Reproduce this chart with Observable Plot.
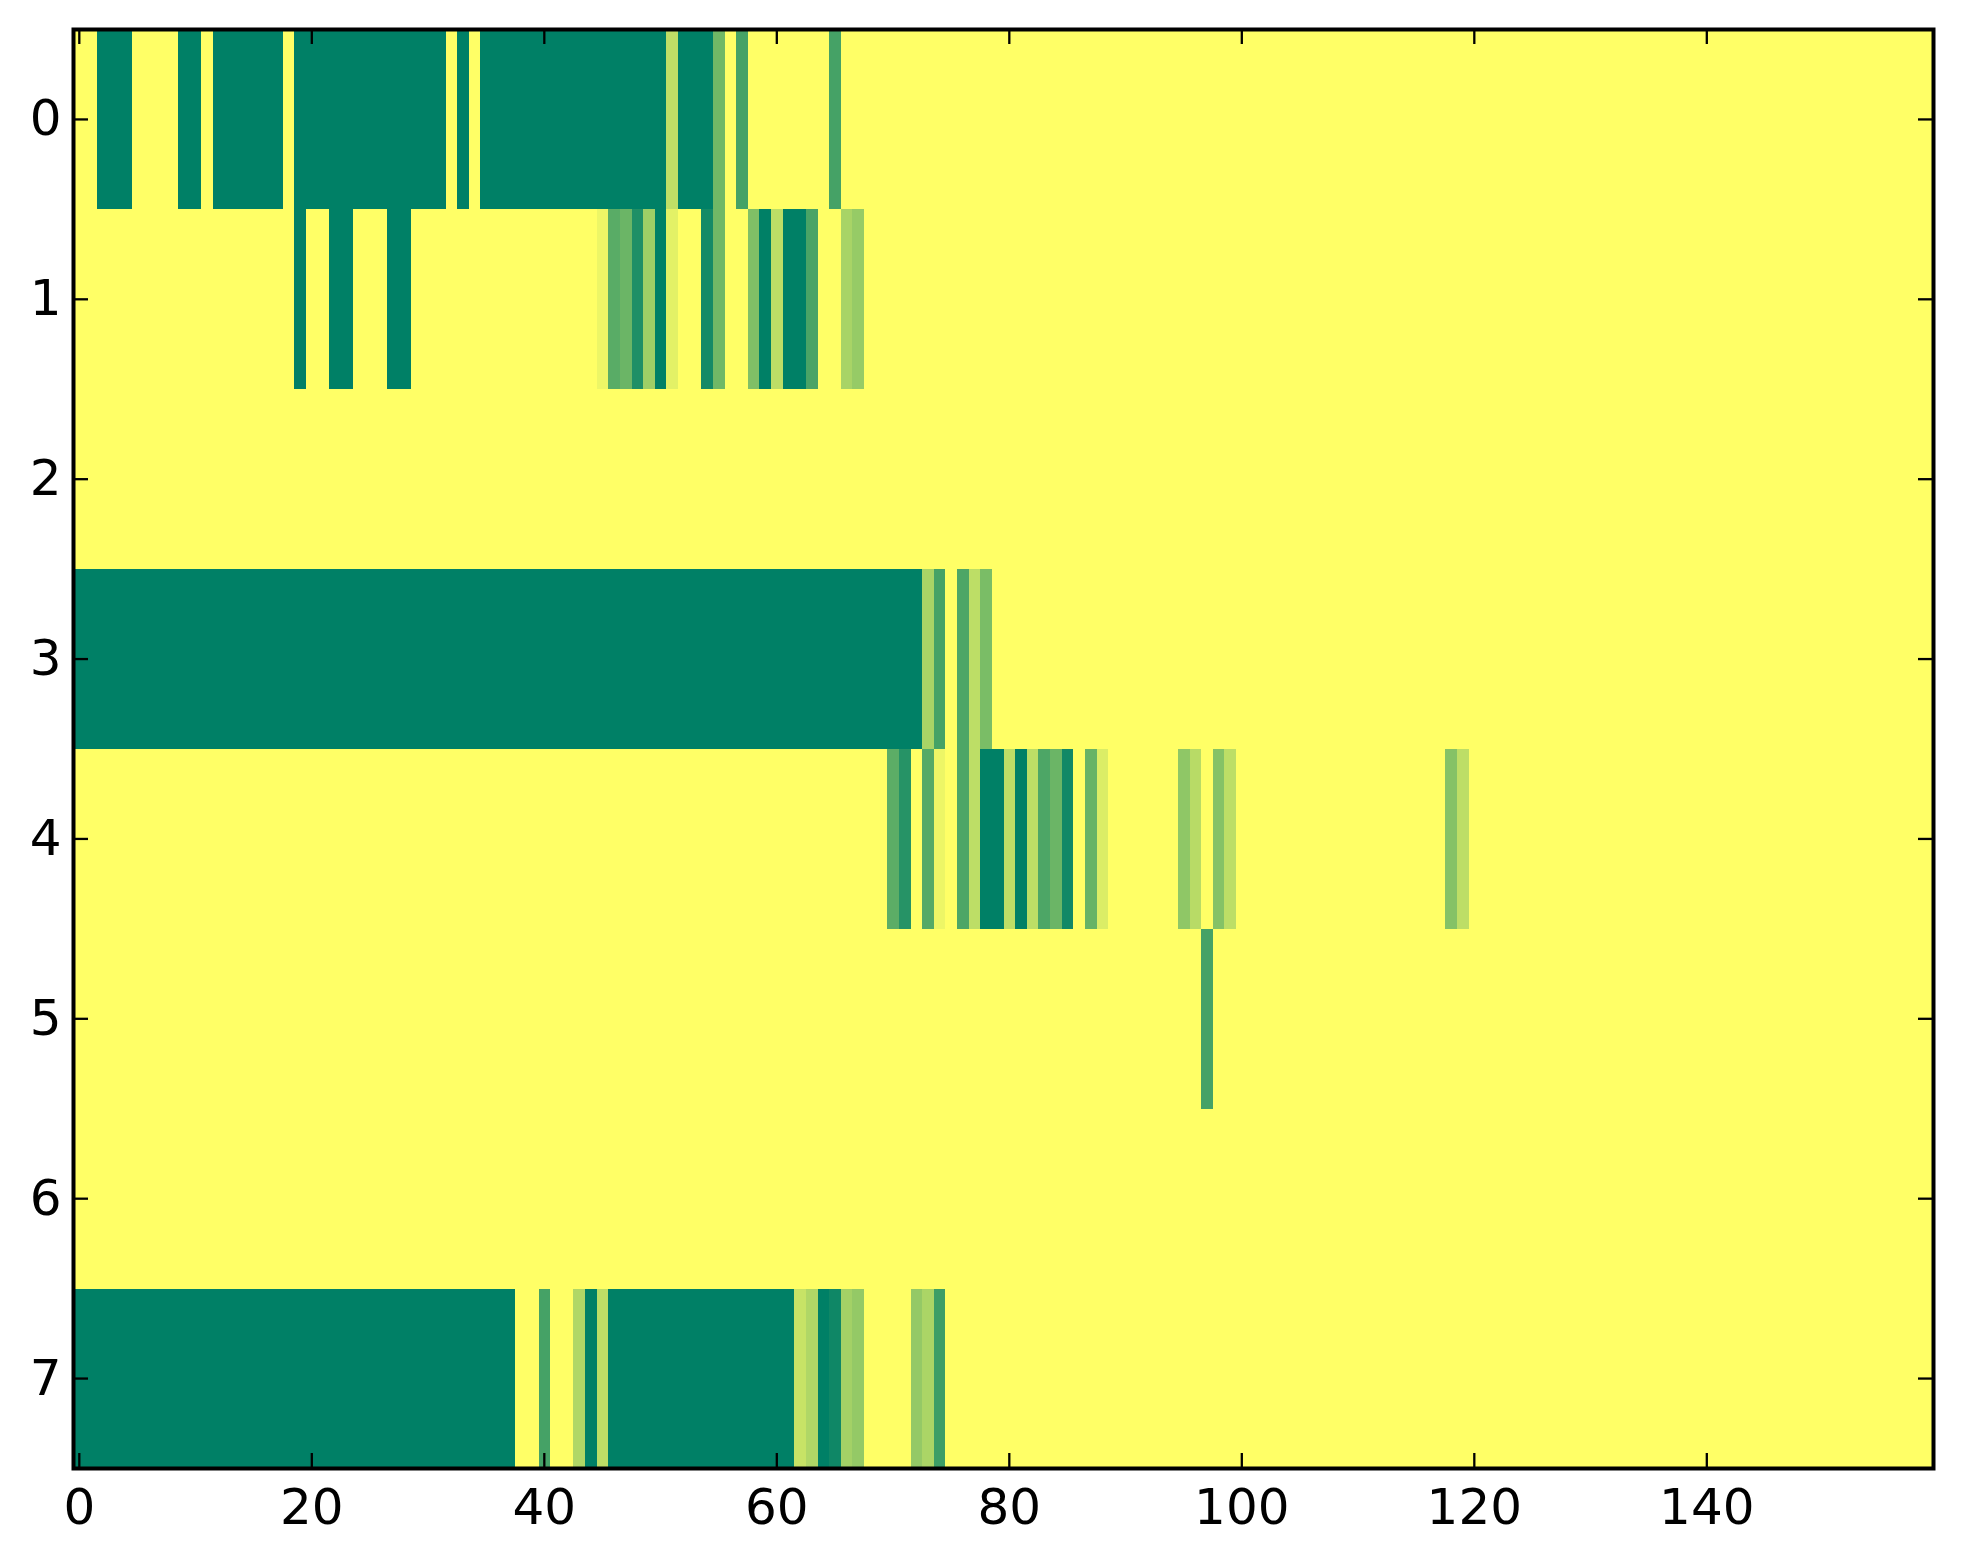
<!DOCTYPE html>
<html>
<head>
<meta charset="utf-8">
<script src="https://cdn.jsdelivr.net/npm/d3@7"></script>
<script src="https://cdn.jsdelivr.net/npm/@observablehq/plot@0.6"></script>
<style>
  html, body { margin: 0; padding: 0; background: white; }
  #chart svg { display: block; }
</style>
</head>
<body>
<div id="chart"></div>
<script>
// 8 rows x 160 columns, values 0..1 (summer colormap: 0 = green, 1 = yellow)
const row0 = [
  1,1,0,0,0,1,1,1,1,0,0,1,0,0,0,0,0,0,1,0,
  0,0,0,0,0,0,0,0,0,0,0,0,1,0,1,0,0,0,0,0,
  0,0,0,0,0,0,0,0,0,0,0,.75,0,0,0,.44,1,.27,1,1,
  1,1,1,1,1,.27,1,1,1,1,1,1,1,1,1,1,1,1,1,1,
  1,1,1,1,1,1,1,1,1,1,1,1,1,1,1,1,1,1,1,1,
  1,1,1,1,1,1,1,1,1,1,1,1,1,1,1,1,1,1,1,1,
  1,1,1,1,1,1,1,1,1,1,1,1,1,1,1,1,1,1,1,1,
  1,1,1,1,1,1,1,1,1,1,1,1,1,1,1,1,1,1,1,1
];
const row1 = [
  1,1,1,1,1,1,1,1,1,1,1,1,1,1,1,1,1,1,1,0,
  1,1,0,0,1,1,1,0,0,1,1,1,1,1,1,1,1,1,1,1,
  1,1,1,1,1,.93,.35,.42,.12,.62,0,.89,1,1,.08,.44,1,1,.5,0,
  .74,0,0,.29,1,1,.66,.59,1,1,1,1,1,1,1,1,1,1,1,1,
  1,1,1,1,1,1,1,1,1,1,1,1,1,1,1,1,1,1,1,1,
  1,1,1,1,1,1,1,1,1,1,1,1,1,1,1,1,1,1,1,1,
  1,1,1,1,1,1,1,1,1,1,1,1,1,1,1,1,1,1,1,1,
  1,1,1,1,1,1,1,1,1,1,1,1,1,1,1,1,1,1,1,1
];
const row2 = [
  1,1,1,1,1,1,1,1,1,1,1,1,1,1,1,1,1,1,1,1,
  1,1,1,1,1,1,1,1,1,1,1,1,1,1,1,1,1,1,1,1,
  1,1,1,1,1,1,1,1,1,1,1,1,1,1,1,1,1,1,1,1,
  1,1,1,1,1,1,1,1,1,1,1,1,1,1,1,1,1,1,1,1,
  1,1,1,1,1,1,1,1,1,1,1,1,1,1,1,1,1,1,1,1,
  1,1,1,1,1,1,1,1,1,1,1,1,1,1,1,1,1,1,1,1,
  1,1,1,1,1,1,1,1,1,1,1,1,1,1,1,1,1,1,1,1,
  1,1,1,1,1,1,1,1,1,1,1,1,1,1,1,1,1,1,1,1
];
const row3 = [
  0,0,0,0,0,0,0,0,0,0,0,0,0,0,0,0,0,0,0,0,
  0,0,0,0,0,0,0,0,0,0,0,0,0,0,0,0,0,0,0,0,
  0,0,0,0,0,0,0,0,0,0,0,0,0,0,0,0,0,0,0,0,
  0,0,0,0,0,0,0,0,0,0,0,0,0,.66,.27,1,.3,.74,.48,1,
  1,1,1,1,1,1,1,1,1,1,1,1,1,1,1,1,1,1,1,1,
  1,1,1,1,1,1,1,1,1,1,1,1,1,1,1,1,1,1,1,1,
  1,1,1,1,1,1,1,1,1,1,1,1,1,1,1,1,1,1,1,1,
  1,1,1,1,1,1,1,1,1,1,1,1,1,1,1,1,1,1,1,1
];
const row4 = [
  1,1,1,1,1,1,1,1,1,1,1,1,1,1,1,1,1,1,1,1,
  1,1,1,1,1,1,1,1,1,1,1,1,1,1,1,1,1,1,1,1,
  1,1,1,1,1,1,1,1,1,1,1,1,1,1,1,1,1,1,1,1,
  1,1,1,1,1,1,1,1,1,1,.36,.15,1,.33,.93,1,.3,.74,0,0,
  .74,0,.74,.3,.42,.07,1,.4,.86,1,1,1,1,1,1,.56,.72,1,.52,.74,
  1,1,1,1,1,1,1,1,1,1,1,1,1,1,1,1,1,1,.52,.74,
  1,1,1,1,1,1,1,1,1,1,1,1,1,1,1,1,1,1,1,1,
  1,1,1,1,1,1,1,1,1,1,1,1,1,1,1,1,1,1,1,1
];
const row5 = [
  1,1,1,1,1,1,1,1,1,1,1,1,1,1,1,1,1,1,1,1,
  1,1,1,1,1,1,1,1,1,1,1,1,1,1,1,1,1,1,1,1,
  1,1,1,1,1,1,1,1,1,1,1,1,1,1,1,1,1,1,1,1,
  1,1,1,1,1,1,1,1,1,1,1,1,1,1,1,1,1,1,1,1,
  1,1,1,1,1,1,1,1,1,1,1,1,1,1,1,1,1,.27,1,1,
  1,1,1,1,1,1,1,1,1,1,1,1,1,1,1,1,1,1,1,1,
  1,1,1,1,1,1,1,1,1,1,1,1,1,1,1,1,1,1,1,1,
  1,1,1,1,1,1,1,1,1,1,1,1,1,1,1,1,1,1,1,1
];
const row6 = [
  1,1,1,1,1,1,1,1,1,1,1,1,1,1,1,1,1,1,1,1,
  1,1,1,1,1,1,1,1,1,1,1,1,1,1,1,1,1,1,1,1,
  1,1,1,1,1,1,1,1,1,1,1,1,1,1,1,1,1,1,1,1,
  1,1,1,1,1,1,1,1,1,1,1,1,1,1,1,1,1,1,1,1,
  1,1,1,1,1,1,1,1,1,1,1,1,1,1,1,1,1,1,1,1,
  1,1,1,1,1,1,1,1,1,1,1,1,1,1,1,1,1,1,1,1,
  1,1,1,1,1,1,1,1,1,1,1,1,1,1,1,1,1,1,1,1,
  1,1,1,1,1,1,1,1,1,1,1,1,1,1,1,1,1,1,1,1
];
const row7 = [
  0,0,0,0,0,0,0,0,0,0,0,0,0,0,0,0,0,0,0,0,
  0,0,0,0,0,0,0,0,0,0,0,0,0,0,0,0,0,0,1,1,
  .27,1,1,.69,0,.74,0,0,0,0,0,0,0,0,0,0,0,0,0,0,
  0,0,.78,.69,0,.06,.64,.58,1,1,1,1,.58,.67,.24,1,1,1,1,1,
  1,1,1,1,1,1,1,1,1,1,1,1,1,1,1,1,1,1,1,1,
  1,1,1,1,1,1,1,1,1,1,1,1,1,1,1,1,1,1,1,1,
  1,1,1,1,1,1,1,1,1,1,1,1,1,1,1,1,1,1,1,1,
  1,1,1,1,1,1,1,1,1,1,1,1,1,1,1,1,1,1,1,1
];
const rows = [row0, row1, row2, row3, row4, row5, row6, row7];
const xTicks = [0, 20, 40, 60, 80, 100, 120, 140];
const yTicks = [0, 1, 2, 3, 4, 5, 6, 7];

const nCols = row0.length;
const nRows = rows.length;
const flat = rows.flat();

const W = 1963, Hgt = 1564;
const mL = 73, mR = 30, mT = 29, mB = 96;
const innerW = W - mL - mR, innerH = Hgt - mT - mB;
const tickLen = 15;

// matplotlib "summer" colormap
const summer = t => `rgb(${Math.round(255 * t)},${Math.round(127.5 + 127.5 * t)},102)`;

const chart = Plot.plot({
  width: W,
  height: Hgt,
  marginLeft: mL,
  marginRight: mR,
  marginTop: mT,
  marginBottom: mB,
  style: {fontFamily: "DejaVu Sans", fontSize: "50px", background: "white", color: "black"},
  x: {domain: [-0.5, nCols - 0.5]},
  y: {domain: [-0.5, nRows - 0.5], reverse: true},
  color: {type: "linear", domain: [0, 1], interpolate: summer},
  marks: [
    Plot.raster(flat, {
      width: nCols, height: nRows,
      x1: -0.5, x2: nCols - 0.5, y1: -0.5, y2: nRows - 0.5,
      fill: d => d,
      imageRendering: "pixelated"
    }),
    // inward ticks on all four sides
    Plot.tickX(xTicks, {x: d => d, stroke: "black", strokeWidth: 2.3, insetTop: innerH - tickLen}),
    Plot.tickX(xTicks, {x: d => d, stroke: "black", strokeWidth: 2.3, insetBottom: innerH - tickLen}),
    Plot.tickY(yTicks, {y: d => d, stroke: "black", strokeWidth: 2.3, insetRight: innerW - tickLen}),
    Plot.tickY(yTicks, {y: d => d, stroke: "black", strokeWidth: 2.3, insetLeft: innerW - tickLen}),
    Plot.axisX(xTicks, {anchor: "bottom", tickSize: 0, tickPadding: 20, label: null, fontSize: 50, tickFormat: d => String(d)}),
    Plot.axisY(yTicks, {anchor: "left", tickSize: 0, tickPadding: 12, label: null, fontSize: 50, tickFormat: d => String(d)}),
    Plot.frame({stroke: "black", strokeWidth: 4})
  ]
});
document.getElementById("chart").appendChild(chart);
</script>
</body>
</html>
